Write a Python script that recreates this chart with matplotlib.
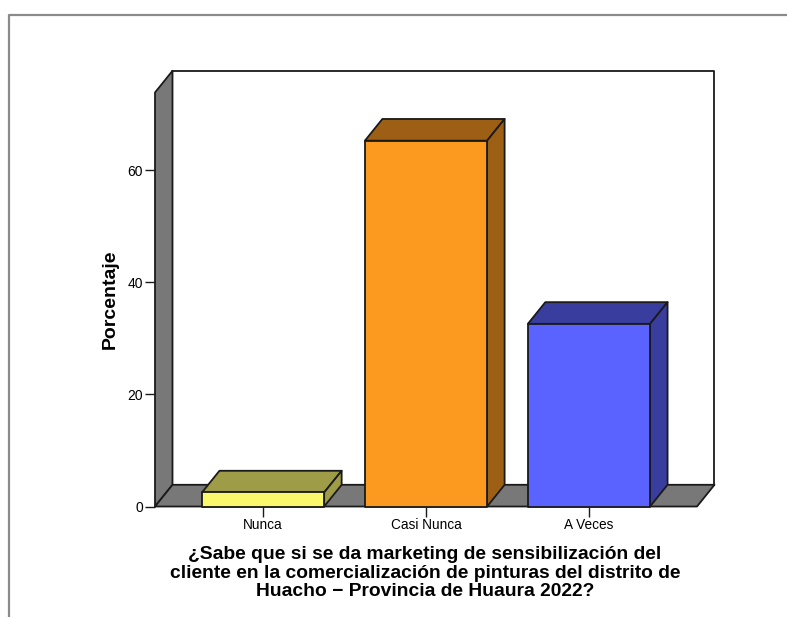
import matplotlib
matplotlib.use('Agg')
import matplotlib.pyplot as plt
from matplotlib.lines import Line2D
from matplotlib.patches import Polygon

categories = ['Nunca', 'Casi Nunca', 'A Veces']
values = [2.5, 65.3, 32.6]
y_ticks = [0, 20, 40, 60]
front_colors = ['#FBF86C', '#FB9A1E', '#5A62FF']
top_colors = ['#9E9C47', '#9C5F13', '#383D9E']
side_colors = ['#9E9C47', '#9C5F13', '#383D9E']
title = ('¿Sabe que si se da marketing de sensibilización del\n'
         'cliente en la comercialización de pinturas del distrito de\n'
         'Huacho − Provincia de Huaura 2022?')

W, H = 787, 617
EDGE = '#1a1a1a'
GRAY = '#787878'

plt.rcParams['font.family'] = ['Liberation Sans', 'DejaVu Sans']

fig = plt.figure(figsize=(W / 100, H / 100), dpi=100)
ax = fig.add_axes([155 / W, (H - 506.5) / H, 542 / W, 414 / H])

x_min, x_max = -0.663, 2.663
y_min, y_max = 0, 73.9
bar_w = 0.75
# 3d depth of the box in data units
dx = 17.5 / 163
dy = 21.7 / 5.6


def poly(pts, color, z=2):
    ax.add_patch(Polygon(pts, closed=True, facecolor=color, edgecolor=EDGE,
                         linewidth=1.3, joinstyle='round', clip_on=False, zorder=z))


# back wall, left wall and floor
poly([(x_min + dx, dy), (x_max + dx, dy), (x_max + dx, y_max + dy), (x_min + dx, y_max + dy)], 'white', 1)
poly([(x_min, 0), (x_min + dx, dy), (x_min + dx, y_max + dy), (x_min, y_max)], GRAY, 1)
poly([(x_min, 0), (x_max, 0), (x_max + dx, dy), (x_min + dx, dy)], GRAY, 1)

# bars
for i, v in enumerate(values):
    l = i - bar_w / 2
    r = i + bar_w / 2
    poly([(l, v), (r, v), (r + dx, v + dy), (l + dx, v + dy)], top_colors[i], 3)
    poly([(r, 0), (r + dx, dy), (r + dx, v + dy), (r, v)], side_colors[i], 3)
    poly([(l, 0), (r, 0), (r, v), (l, v)], front_colors[i], 4)

ax.set_xlim(x_min, x_max)
ax.set_ylim(y_min, y_max)
for s in ax.spines.values():
    s.set_visible(False)
ax.patch.set_visible(False)

ax.set_xticks(range(len(categories)))
ax.set_xticklabels(categories, fontsize=9.8)
ax.set_yticks(y_ticks)
ax.tick_params(axis='y', length=7, width=1, labelsize=10, pad=1.5, color=EDGE)
ax.tick_params(axis='x', length=7, width=1, pad=1.5, color=EDGE)

ax.set_ylabel('Porcentaje', fontsize=14, fontweight='bold', labelpad=6)
fig.text(425 / W, 1 - 573 / H, title, fontsize=13.9, fontweight='bold',
         ha='center', va='center', linespacing=1.1)

# outer frame of the output window
fig.add_artist(Line2D([9 / W, 9 / W, 1], [0, 1 - 15 / H, 1 - 15 / H],
                      transform=fig.transFigure, color='#8a8a8a', linewidth=1.6))

fig.savefig('out.png', dpi=100, facecolor='white')
